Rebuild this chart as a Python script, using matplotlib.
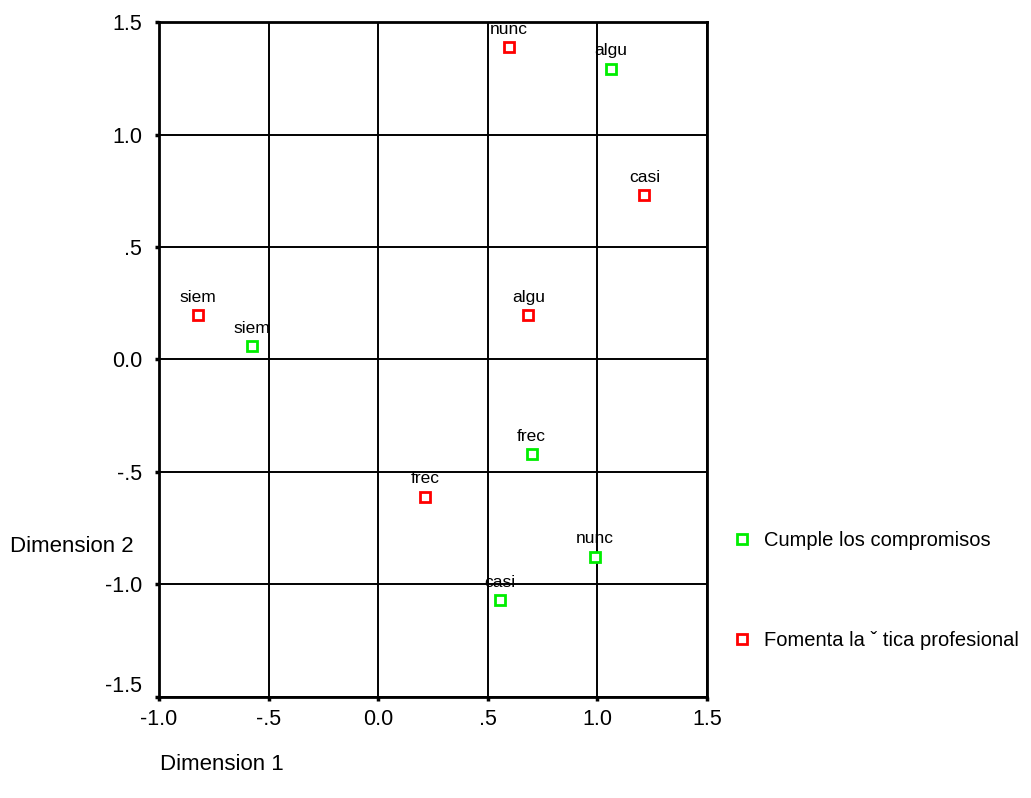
import matplotlib
matplotlib.use("Agg")
import matplotlib.pyplot as plt

plt.rcParams["font.family"] = ["Liberation Sans", "DejaVu Sans"]

# Row/column points from the correspondence plot
cumple_labels = ["algu", "siem", "frec", "nunc", "casi"]
cumple_x = [1.06, -0.575, 0.70, 0.99, 0.557]
cumple_y = [1.29, 0.058, -0.422, -0.876, -1.071]

fomenta_labels = ["nunc", "casi", "siem", "algu", "frec"]
fomenta_x = [0.598, 1.215, -0.822, 0.685, 0.215]
fomenta_y = [1.387, 0.729, 0.196, 0.196, -0.609]

xticks = [-1.0, -0.5, 0.0, 0.5, 1.0, 1.5]
xtick_labels = ["-1.0", "-.5", "0.0", ".5", "1.0", "1.5"]
yticks = [-1.5, -1.0, -0.5, 0.0, 0.5, 1.0, 1.5]
ytick_labels = ["-1.5", "-1.0", "-.5", "0.0", ".5", "1.0", "1.5"]

fig = plt.figure(figsize=(10.31, 7.98), dpi=100)
ax = fig.add_axes([0.1542, 0.1266, 0.5315, 0.8458])

ax.set_xlim(-1.0, 1.5)
ax.set_ylim(-1.5, 1.5)
ax.set_xticks(xticks)
ax.set_xticklabels(xtick_labels, fontsize=15.5)
ax.set_yticks(yticks)
ax.set_yticklabels(ytick_labels, fontsize=15.5)
ax.tick_params(axis="x", direction="out", length=3, width=2.5, pad=6)
ax.tick_params(axis="y", direction="out", length=3, width=2.5, pad=9)
# lowest y label sits above its tick, as in the original
ax.get_yticklabels()[0].set_va("bottom")
ax.grid(True, color="black", linewidth=1.4)
ax.set_axisbelow(True)
for s in ax.spines.values():
    s.set_linewidth(2)

ax.plot(cumple_x, cumple_y, "s", ms=7.5, mfc="white", mec="#00ee00", mew=2,
        linestyle="none", label="Cumple los compromisos", zorder=3)
ax.plot(fomenta_x, fomenta_y, "s", ms=7.5, mfc="white", mec="#ff0000", mew=2,
        linestyle="none", label="Fomenta la \u02c7 tica profesional", zorder=3)

for lab, x, y in zip(cumple_labels, cumple_x, cumple_y):
    ax.annotate(lab, (x, y), xytext=(0, 10), textcoords="offset points",
                ha="center", va="baseline", fontsize=12.5, zorder=4)
for lab, x, y in zip(fomenta_labels, fomenta_x, fomenta_y):
    ax.annotate(lab, (x, y), xytext=(0, 10), textcoords="offset points",
                ha="center", va="baseline", fontsize=12.5, zorder=4)

fig.text(10 / 1031, 1 - 546 / 798, "Dimension 2", fontsize=16, va="center", ha="left")
fig.text(160 / 1031, 1 - 765 / 798, "Dimension 1", fontsize=16, va="center", ha="left")

leg = fig.legend(loc="upper left", bbox_to_anchor=(724 / 1031, 1 - 523 / 798),
                 frameon=False, fontsize=14.5, labelspacing=4.0, handletextpad=0.6,
                 handlelength=1.0, borderaxespad=0)

fig.savefig("out.png", dpi=100)
